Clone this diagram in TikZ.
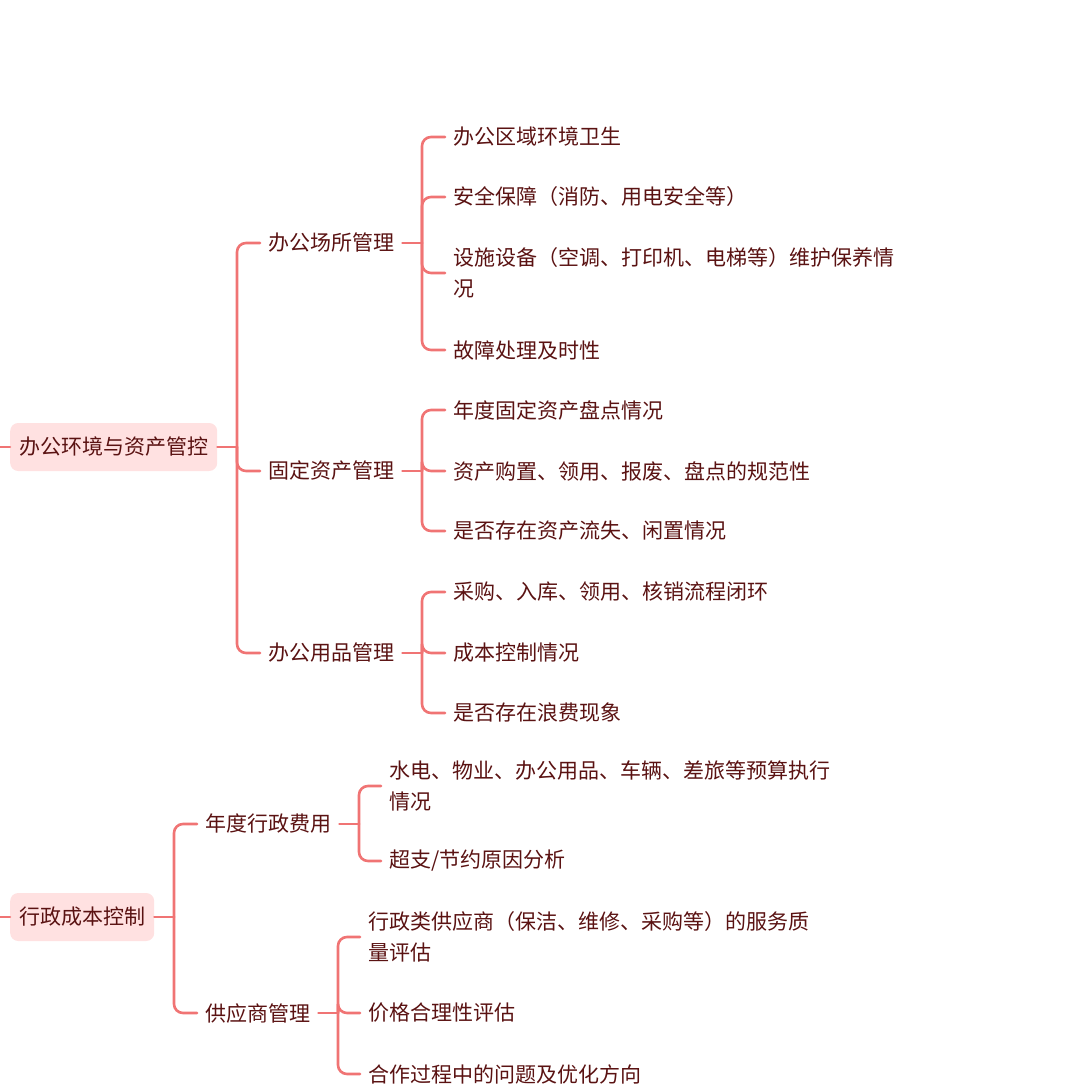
\documentclass[tikz,border=0pt]{standalone}
\usepackage{fontspec}
\setmainfont{Noto Sans CJK SC}
\definecolor{ln}{HTML}{F07474}
\definecolor{tx}{HTML}{5A1212}
\definecolor{rootfill}{HTML}{FFE1E1}
\begin{document}
\begin{tikzpicture}[x=1pt,y=-1pt,
  every node/.style={font=\fontsize{21}{31}\selectfont,text=tx,inner sep=0pt,anchor=west,align=left},
  rootbox/.style={fill=rootfill,rounded corners=8pt,inner xsep=9pt,minimum height=48pt},
  conn/.style={draw=ln,line width=2.6pt,rounded corners=9pt,line cap=round}]
\useasboundingbox (0,0) rectangle (1080,1091);
% roots
\node[rootbox] (r1) at (10,447) {办公环境与资产管控};
\node[rootbox] (r2) at (10,917) {行政成本控制};
\coordinate (e1) at (0,447); \coordinate (e2) at (0,917);
\draw[conn] (e1) -- (r1.west); \draw[conn] (e2) -- (r2.west);
% level 1
\node (a) at (268,243) {办公场所管理};
\node (b) at (268,471) {固定资产管理};
\node (c) at (268,653) {办公用品管理};
\node (d) at (205,824) {年度行政费用};
\node (f) at (205,1013) {供应商管理};
\coordinate (B1) at (237,447); \coordinate (B2) at (174,917);
\draw[conn] (r1.east) -- (B1);
\foreach \n in {a,b,c} \draw[conn] (B1) |- ([xshift=-8pt]\n.west);
\draw[conn] (r2.east) -- (B2);
\foreach \n in {d,f} \draw[conn] (B2) |- ([xshift=-8pt]\n.west);
% leaves
\node (a1) at (453,137) {办公区域环境卫生};
\node (a2) at (453,197) {安全保障（消防、用电安全等）};
\node (a3) at (453,273) {设施设备（空调、打印机、电梯等）维护保养情\\况};
\node (a4) at (453,350) {故障处理及时性};
\node (b1) at (453,410) {年度固定资产盘点情况};
\node (b2) at (453,471) {资产购置、领用、报废、盘点的规范性};
\node (b3) at (453,531) {是否存在资产流失、闲置情况};
\node (c1) at (453,592) {采购、入库、领用、核销流程闭环};
\node (c2) at (453,653) {成本控制情况};
\node (c3) at (453,713) {是否存在浪费现象};
\node (d1) at (389,786) {水电、物业、办公用品、车辆、差旅等预算执行\\情况};
\node (d2) at (389,861) {超支/节约原因分析};
\node (f1) at (368,937) {行政类供应商（保洁、维修、采购等）的服务质\\量评估};
\node (f2) at (368,1013) {价格合理性评估};
\node (f3) at (368,1074) {合作过程中的问题及优化方向};
\coordinate (Ba) at (422,243); \coordinate (Bb) at (422,471); \coordinate (Bc) at (422,653);
\coordinate (Bd) at (359,824); \coordinate (Bf) at (338,1013);
\draw[conn] ([xshift=8pt]a.east) -- (Ba);
\draw[conn] ([xshift=8pt]b.east) -- (Bb);
\draw[conn] ([xshift=8pt]c.east) -- (Bc);
\draw[conn] ([xshift=8pt]d.east) -- (Bd);
\draw[conn] ([xshift=8pt]f.east) -- (Bf);
\foreach \n in {a1,a2,a3,a4} \draw[conn] (Ba) |- ([xshift=-8pt]\n.west);
\foreach \n in {b1,b2,b3} \draw[conn] (Bb) |- ([xshift=-8pt]\n.west);
\foreach \n in {c1,c2,c3} \draw[conn] (Bc) |- ([xshift=-8pt]\n.west);
\foreach \n in {d1,d2} \draw[conn] (Bd) |- ([xshift=-8pt]\n.west);
\foreach \n in {f1,f2,f3} \draw[conn] (Bf) |- ([xshift=-8pt]\n.west);
\end{tikzpicture}
\end{document}
